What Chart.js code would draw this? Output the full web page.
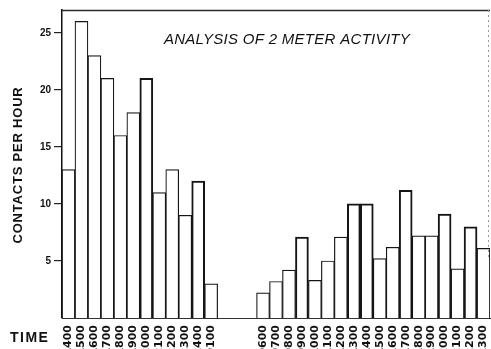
<!DOCTYPE html>
<html>
<head>
<meta charset="utf-8">
<script src="https://cdn.jsdelivr.net/npm/chart.js@4.4.1/dist/chart.umd.min.js"></script>
<style>
html,body{margin:0;padding:0;background:#fff;overflow:hidden;}
#wrap{width:491px;height:349px;position:relative;}
canvas{display:block;}
</style>
</head>
<body>
<div id="wrap"><canvas id="c" width="491" height="349"></canvas></div>
<script>
// Data
const hoursDay1 = ['1400','1500','1600','1700','1800','1900','2000','2100','2200','2300','2400','0100'];
const gapLabels = ['', '', ''];
const hoursDay2 = ['0600','0700','0800','0900','1000','1100','1200','1300','1400','1500','1600','1700','1800','1900','2000','2100','2200','2300'];
const contactsDay1 = [13, 26, 23, 21, 16, 18, 21, 11, 13, 9, 12, 3];
const contactsDay2 = [2.2, 3.2, 4.2, 7.1, 3.3, 5, 7.1, 10, 10, 5.2, 6.2, 11.2, 7.2, 7.2, 9.1, 4.3, 8, 6.1];
const yTicks = [5, 10, 15, 20, 25];
const chartTitle = 'ANALYSIS OF 2 METER ACTIVITY';
const yTitle = 'CONTACTS PER HOUR';
const xTitle = 'TIME';

const labels = [...hoursDay1, ...gapLabels, ...hoursDay2];
const values = [...contactsDay1, ...gapLabels.map(() => null), ...contactsDay2];

// bars that were inked heavier in the original print
const heavyBars = new Set([6, 10, 18, 22, 23, 26, 29, 31]);

const decor = {
  id: 'decor',
  afterDraw(chart) {
    const ctx = chart.ctx;
    const a = chart.chartArea;
    ctx.save();
    // top frame line
    ctx.strokeStyle = '#2a2a2a';
    ctx.lineWidth = 1.6;
    ctx.beginPath();
    ctx.moveTo(a.left, a.top + 0.5);
    ctx.lineTo(a.right, a.top + 0.5);
    ctx.stroke();
    // right frame line (faint, dotted)
    ctx.strokeStyle = '#9a9a9a';
    ctx.lineWidth = 1;
    ctx.setLineDash([2, 3]);
    ctx.beginPath();
    ctx.moveTo(a.right - 1.5, a.top);
    ctx.lineTo(a.right - 1.5, a.bottom - 60);
    ctx.stroke();
    ctx.setLineDash([]);

    ctx.fillStyle = '#111';
    // chart title inside plot
    ctx.font = 'italic 15px "Liberation Sans", Arial, sans-serif';
    ctx.letterSpacing = '0.3px';
    ctx.textAlign = 'center';
    ctx.textBaseline = 'middle';
    ctx.fillText(chartTitle, 287, a.top + 30);

    // y axis title
    ctx.font = 'bold 13px "Liberation Sans", Arial, sans-serif';
    ctx.letterSpacing = '0.8px';
    ctx.save();
    ctx.translate(18, 165);
    ctx.rotate(-Math.PI / 2);
    ctx.fillText(yTitle, 0, 0);
    ctx.restore();

    // x axis title
    ctx.font = 'bold 14px "Liberation Sans", Arial, sans-serif';
    ctx.letterSpacing = '1.5px';
    ctx.textAlign = 'left';
    ctx.fillText(xTitle, 10, 338);
    ctx.restore();
  }
};

new Chart(document.getElementById('c'), {
  type: 'bar',
  data: {
    labels: labels,
    datasets: [{
      data: values,
      backgroundColor: '#ffffff',
      borderColor: '#151515',
      borderWidth: (c) => heavyBars.has(c.dataIndex) ? 2 : 1.2,
      borderSkipped: 'bottom',
      categoryPercentage: 1,
      barPercentage: 1
    }]
  },
  options: {
    responsive: false,
    animation: false,
    devicePixelRatio: 1,
    layout: { padding: { left: 0, right: 1, top: 10, bottom: 0 } },
    plugins: {
      legend: { display: false },
      tooltip: { enabled: false },
      title: { display: false }
    },
    scales: {
      x: {
        type: 'category',
        grid: { display: false, drawTicks: false },
        border: { display: true, color: '#333', width: 1 },
        ticks: {
          autoSkip: false,
          maxRotation: 90,
          minRotation: 90,
          padding: 7,
          color: '#111',
          font: { family: '"DejaVu Sans", sans-serif', weight: 'bold', size: 11 }
        },
        afterFit(scale) {
          scale.height = 31;
          scale.paddingLeft = 0;
          scale.paddingRight = 0;
        }
      },
      y: {
        min: 0,
        max: 27,
        grid: { display: true, drawOnChartArea: false, drawTicks: true, tickLength: 8, color: '#222', lineWidth: 1.2 },
        border: { display: true, color: '#111', width: 1.5 },
        ticks: {
          stepSize: 5,
          padding: 3,
          color: '#111',
          font: { family: '"Liberation Sans Narrow", "Liberation Sans", sans-serif', weight: 'bold', size: 10 }
        },
        afterBuildTicks(scale) {
          scale.ticks = yTicks.map(v => ({ value: v }));
        },
        afterFit(scale) {
          scale.width = 62;
          scale.paddingTop = 0;
          scale.paddingBottom = 0;
        }
      }
    }
  },
  plugins: [decor]
});
</script>
</body>
</html>
